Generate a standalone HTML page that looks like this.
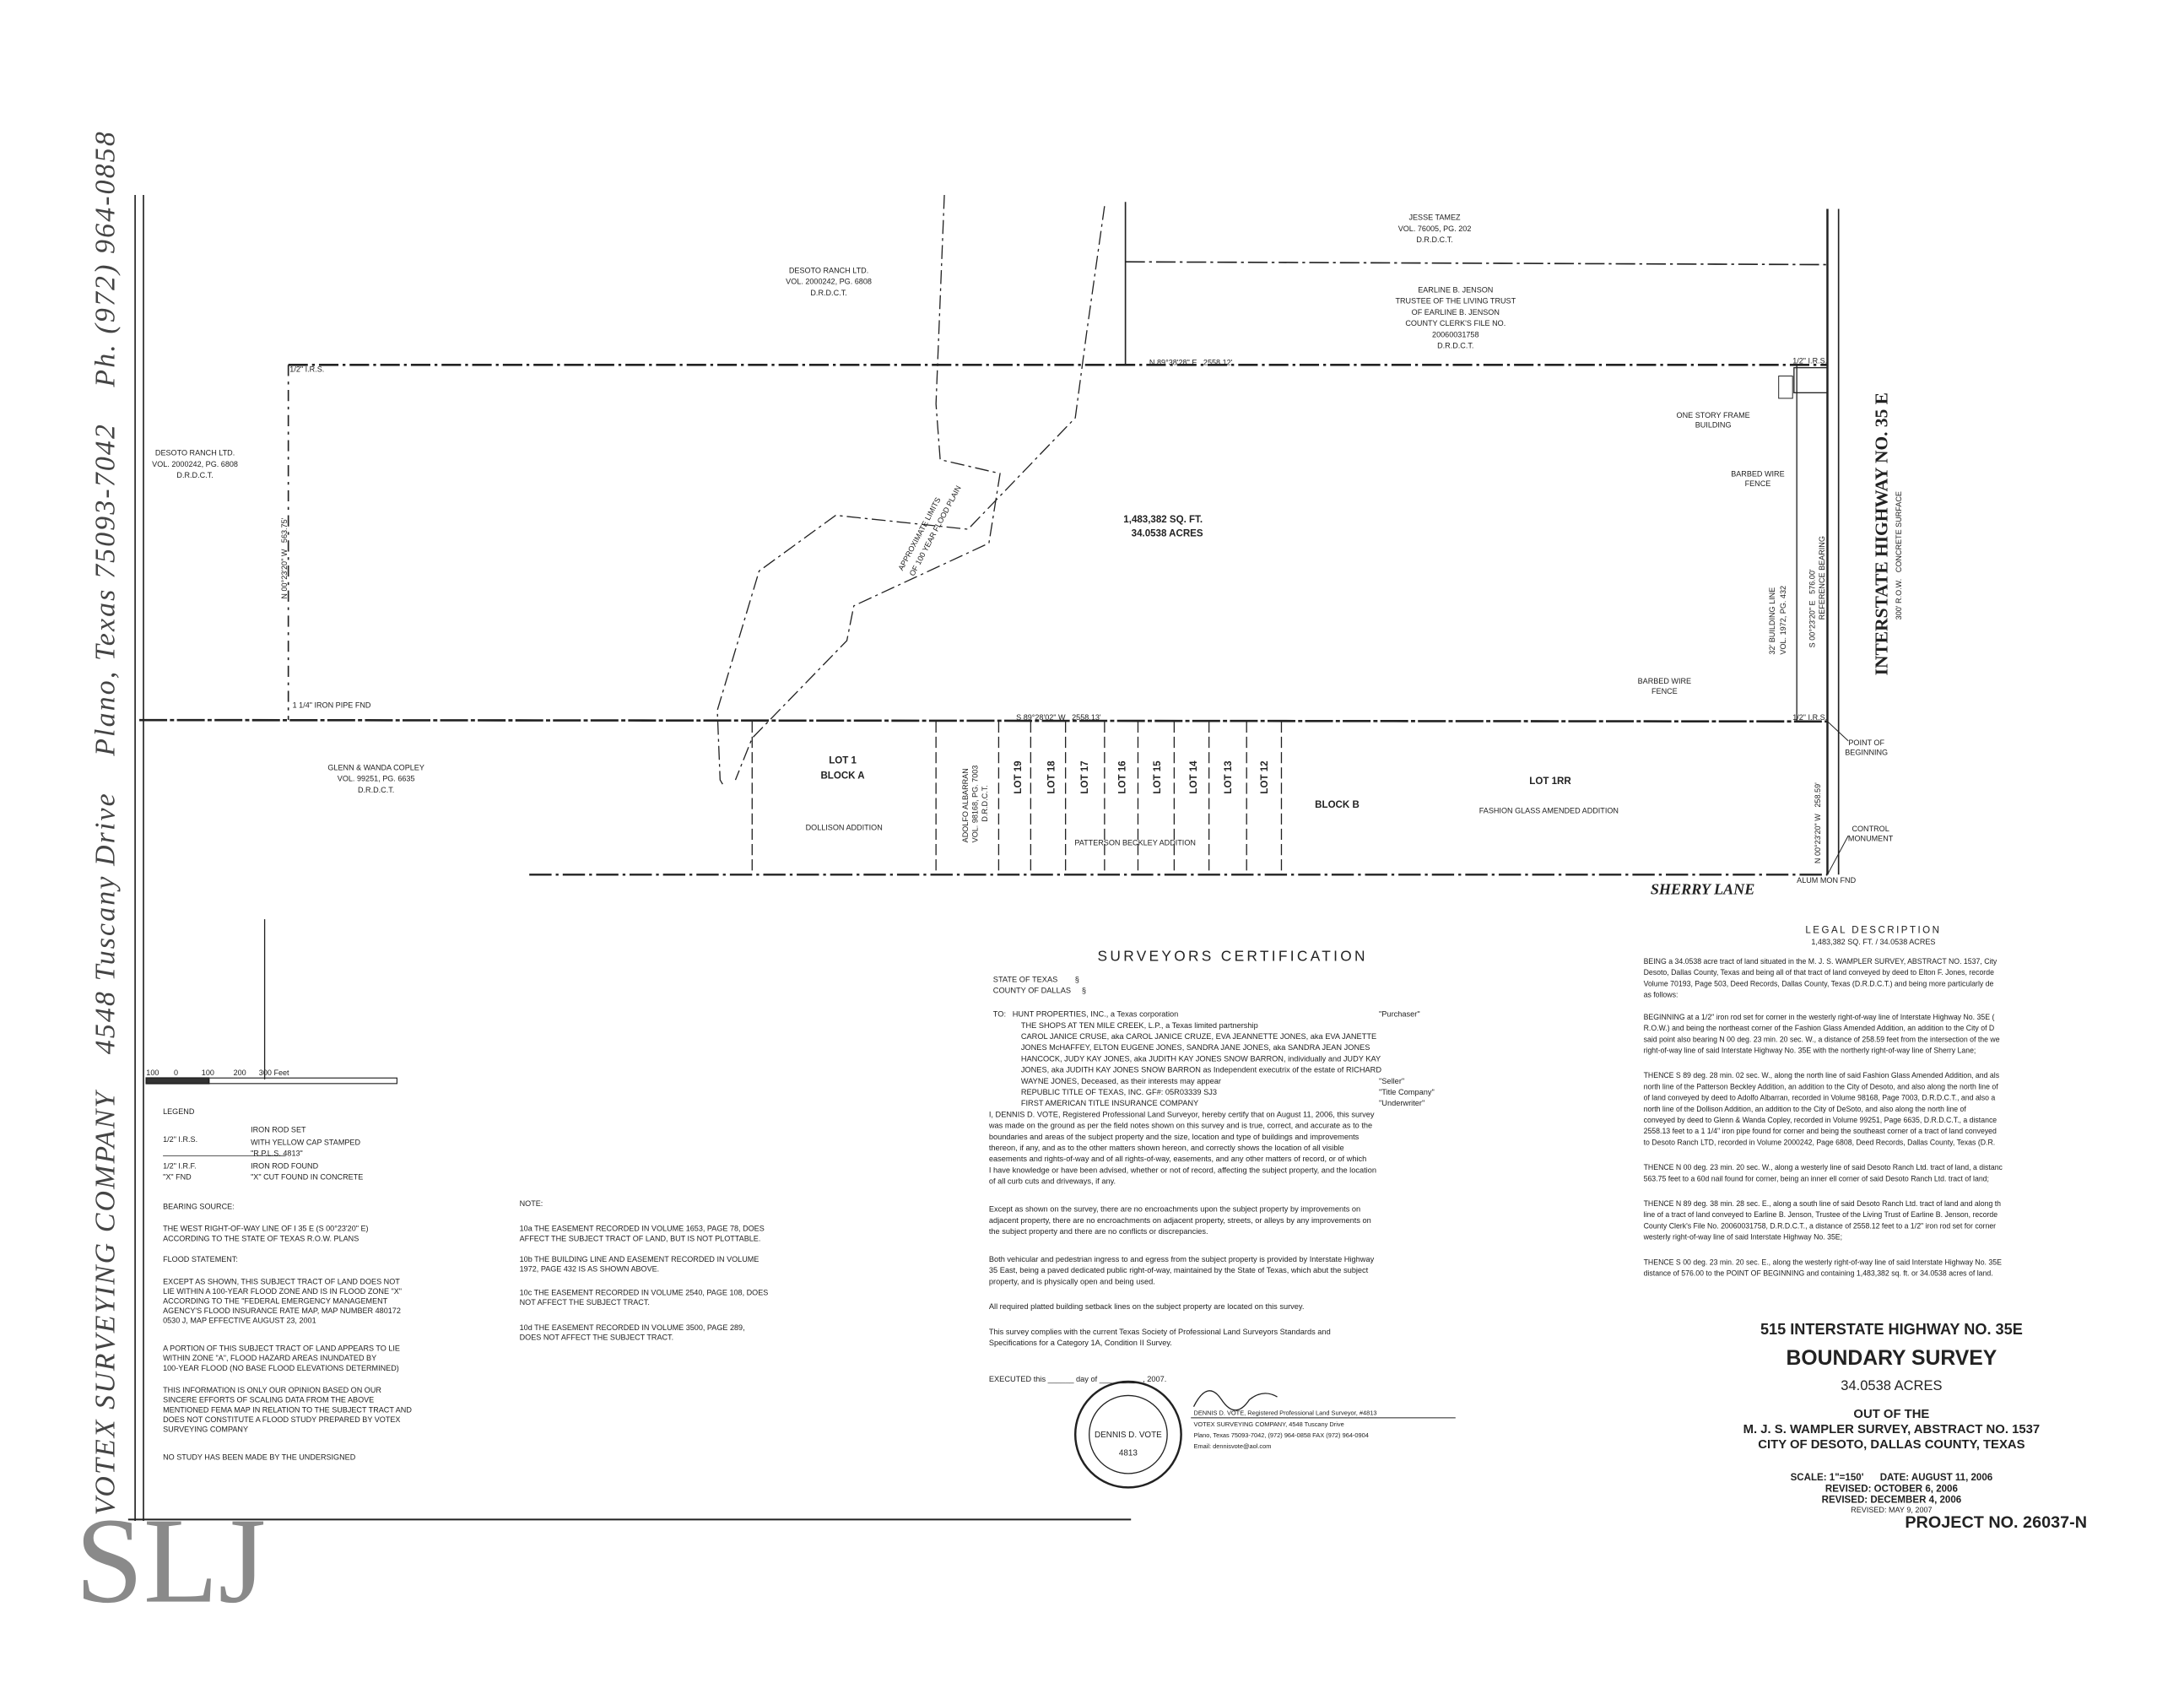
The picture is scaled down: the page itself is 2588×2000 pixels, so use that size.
<!DOCTYPE html>
<html><head><meta charset="utf-8"><style>
html,body{margin:0;padding:0;background:#fff;}
svg{display:block;}
text{font-family:"Liberation Sans",sans-serif;fill:#222;}
.s{font-size:5.5px;}
.m{font-size:7px;}
.c{font-size:5.6px;}
.b{font-weight:bold;}
.sf{font-family:"Liberation Serif",serif;font-weight:bold;}
</style></head><body>
<svg width="2588" height="2000" viewBox="0 0 1568 1212" preserveAspectRatio="none" xmlns="http://www.w3.org/2000/svg">
<rect width="1568" height="1212" fill="#fff"/>
<g stroke="#222" fill="none">
<line x1="97" y1="140" x2="97" y2="1092" stroke-width="1"/>
<line x1="103" y1="140" x2="103" y2="1092" stroke-width="1"/>
<line x1="92" y1="1091" x2="812" y2="1091" stroke-width="1.2"/>
<line x1="207" y1="262" x2="1312" y2="262" stroke-width="1.6" stroke-dasharray="14 3 2 3"/>
<line x1="808" y1="188" x2="1312" y2="190" stroke-width="1" stroke-dasharray="14 3 2 3"/>
<line x1="808" y1="145" x2="808" y2="262" stroke-width="1"/>
<line x1="100" y1="517" x2="1312" y2="518" stroke-width="1.6" stroke-dasharray="20 2 3 2"/>
<line x1="207" y1="262" x2="207" y2="517" stroke-width="1" stroke-dasharray="8 4 2 4"/>
<line x1="1312" y1="150" x2="1312" y2="628" stroke-width="1.5"/>
<line x1="1320" y1="150" x2="1320" y2="628" stroke-width="1"/>
<line x1="1290" y1="262" x2="1290" y2="518" stroke-width="0.8"/>
<line x1="380" y1="628" x2="1312" y2="628" stroke-width="1.4" stroke-dasharray="16 3 2 3"/>
<rect x="1288" y="264" width="24" height="18" stroke-width="0.8"/>
<rect x="1277" y="270" width="10" height="16" stroke-width="0.6"/>
<g stroke-width="0.8">
<line x1="540" y1="518" x2="540" y2="628" stroke-dasharray="8 3"/>
<line x1="672" y1="518" x2="672" y2="628" stroke-dasharray="8 3"/>
<line x1="717" y1="518" x2="717" y2="628" stroke-dasharray="8 3"/>
<line x1="740" y1="518" x2="740" y2="628" stroke-dasharray="8 3"/>
<line x1="765" y1="518" x2="765" y2="628" stroke-dasharray="8 3"/>
<line x1="793" y1="518" x2="793" y2="628" stroke-dasharray="8 3"/>
<line x1="817" y1="518" x2="817" y2="628" stroke-dasharray="8 3"/>
<line x1="843" y1="518" x2="843" y2="628" stroke-dasharray="8 3"/>
<line x1="868" y1="518" x2="868" y2="628" stroke-dasharray="8 3"/>
<line x1="895" y1="518" x2="895" y2="628" stroke-dasharray="8 3"/>
<line x1="920" y1="518" x2="920" y2="628" stroke-dasharray="8 3"/>
</g>
<path d="M678 140 L672 290 L675 330 L718 340 L710 390 L613 435 L608 460 L540 530 L528 560" stroke-width="0.8" stroke-dasharray="10 3 2 3"/>
<path d="M793 148 L780 240 L772 300 L695 380 L600 370 L545 410 L515 510 L517 560 L520 565" stroke-width="0.8" stroke-dasharray="10 3 2 3"/>
<line x1="190" y1="660" x2="190" y2="775" stroke-width="0.8"/>
<rect x="105" y="774" width="180" height="4" stroke-width="0.7"/>
<rect x="105" y="774" width="45" height="4" fill="#333"/>
<line x1="117" y1="830" x2="205" y2="830" stroke-width="0.5"/>
<line x1="855" y1="1018" x2="1045" y2="1018" stroke-width="0.6"/>
<path d="M857 1010 q10 -20 20 -5 t20 0 q10 -8 20 -2" stroke-width="0.8"/>
<circle cx="810" cy="1030" r="38" stroke-width="1.5"/>
<circle cx="810" cy="1030" r="28" stroke-width="0.8"/>
<line x1="1312" y1="518" x2="1327" y2="532" stroke-width="0.6"/>
<line x1="1312" y1="628" x2="1327" y2="600" stroke-width="0.6"/>
</g>
<text transform="translate(82,1088) rotate(-90)" style="font-family:'Liberation Serif',serif;font-style:italic;font-size:20.5px;letter-spacing:1.3px;fill:#444">VOTEX SURVEYING COMPANY&#160;&#160;&#160;&#160;4548 Tuscany Drive&#160;&#160;&#160;&#160;Plano, Texas 75093-7042&#160;&#160;&#160;&#160;Ph. (972) 964-0858</text>
<text x="54" y="1150" style="font-family:'Liberation Serif',serif;font-size:88px;fill:#8a8a8a">SLJ</text>
<g text-anchor="middle" class="s">
<text x="1030" y="158">JESSE TAMEZ</text><text x="1030" y="166">VOL. 76005, PG. 202</text><text x="1030" y="174">D.R.D.C.T.</text>
<text x="1045" y="210">EARLINE B. JENSON</text><text x="1045" y="218">TRUSTEE OF THE LIVING TRUST</text><text x="1045" y="226">OF EARLINE B. JENSON</text><text x="1045" y="234">COUNTY CLERK'S FILE NO.</text><text x="1045" y="242">20060031758</text><text x="1045" y="250">D.R.D.C.T.</text>
<text x="595" y="196">DESOTO RANCH LTD.</text><text x="595" y="204">VOL. 2000242, PG. 6808</text><text x="595" y="212">D.R.D.C.T.</text>
<text x="140" y="327">DESOTO RANCH LTD.</text><text x="140" y="335">VOL. 2000242, PG. 6808</text><text x="140" y="343">D.R.D.C.T.</text>
<text x="270" y="553">GLENN &amp; WANDA COPLEY</text><text x="270" y="561">VOL. 99251, PG. 6635</text><text x="270" y="569">D.R.D.C.T.</text>
<text x="606" y="596">DOLLISON ADDITION</text>
<text x="815" y="607">PATTERSON BECKLEY ADDITION</text>
<text x="1112" y="584">FASHION GLASS AMENDED ADDITION</text>
<text x="855" y="262">N 89°38'28" E&#160;&#160;&#160;2558.12'</text>
<text x="760" y="517">S 89°28'02" W&#160;&#160;&#160;2558.13'</text>
<text x="1340" y="535">POINT OF</text><text x="1340" y="542">BEGINNING</text>
<text x="1343" y="597">CONTROL</text><text x="1343" y="604">MONUMENT</text>
<text x="1230" y="300">ONE STORY FRAME</text><text x="1230" y="307">BUILDING</text>
<text x="1262" y="342">BARBED WIRE</text><text x="1262" y="349">FENCE</text>
<text x="1195" y="491">BARBED WIRE</text><text x="1195" y="498">FENCE</text>
</g>
<g class="m b" text-anchor="middle">
<text x="835" y="375">1,483,382 SQ. FT.</text><text x="838" y="385">34.0538 ACRES</text>
<text x="605" y="548">LOT 1</text><text x="605" y="559">BLOCK A</text>
<text x="1113" y="563">LOT 1RR</text>
<text x="960" y="580">BLOCK B</text>
</g>
<g class="m b">
<text transform="translate(733,570) rotate(-90)">LOT 19</text>
<text transform="translate(757,570) rotate(-90)">LOT 18</text>
<text transform="translate(781,570) rotate(-90)">LOT 17</text>
<text transform="translate(808,570) rotate(-90)">LOT 16</text>
<text transform="translate(833,570) rotate(-90)">LOT 15</text>
<text transform="translate(859,570) rotate(-90)">LOT 14</text>
<text transform="translate(884,570) rotate(-90)">LOT 13</text>
<text transform="translate(910,570) rotate(-90)">LOT 12</text>
</g>
<g class="s">
<text transform="translate(695,605) rotate(-90)">ADOLFO ALBARRAN</text>
<text transform="translate(702,605) rotate(-90)">VOL. 98168, PG. 7003</text>
<text transform="translate(709,590) rotate(-90)">D.R.D.C.T.</text>
<text transform="translate(206,430) rotate(-90)">N 00°23'20" W&#160;&#160;&#160;563.75'</text>
<text transform="translate(1307,620) rotate(-90)">N 00°23'20" W&#160;&#160;&#160;258.59'</text>
<text transform="translate(1303,465) rotate(-90)">S 00°23'20" E&#160;&#160;&#160;576.00'</text>
<text transform="translate(1310,445) rotate(-90)">REFERENCE BEARING</text>
<text transform="translate(1274,470) rotate(-90)">32' BUILDING LINE</text>
<text transform="translate(1282,470) rotate(-90)">VOL. 1972, PG. 432</text>
<text transform="translate(1365,445) rotate(-90)">300' R.O.W.&#160;&#160;&#160;CONCRETE SURFACE</text>
<text transform="translate(648,410) rotate(-62)">APPROXIMATE LIMITS</text>
<text transform="translate(656,414) rotate(-62)">OF 100 YEAR FLOOD PLAIN</text>
<text x="208" y="267">1/2" I.R.S.</text>
<text x="210" y="508">1 1/4" IRON PIPE FND</text>
<text x="1287" y="261">1/2" I.R.S.</text>
<text x="1287" y="517">1/2" I.R.S.</text>
<text x="1290" y="634">ALUM MON FND</text>
</g>
<text transform="translate(1355,485) rotate(-90)" class="sf" style="font-size:13px">INTERSTATE HIGHWAY NO. 35 E</text>
<text x="1185" y="642" class="sf" style="font-size:11px;font-style:italic">SHERRY LANE</text>
<g class="s" style="fill:#444">
<text x="105" y="772">100&#160;&#160;&#160;&#160;&#160;&#160;&#160;0&#160;&#160;&#160;&#160;&#160;&#160;&#160;&#160;&#160;&#160;&#160;100&#160;&#160;&#160;&#160;&#160;&#160;&#160;&#160;&#160;200&#160;&#160;&#160;&#160;&#160;&#160;300 Feet</text>
<text x="117" y="800">LEGEND</text>
<text x="117" y="820">1/2" I.R.S.</text><text x="180" y="813">IRON ROD SET</text><text x="180" y="822">WITH YELLOW CAP STAMPED</text><text x="180" y="830">"R.P.L.S. 4813"</text>
<text x="117" y="839">1/2" I.R.F.</text><text x="180" y="839">IRON ROD FOUND</text>
<text x="117" y="847">"X" FND</text><text x="180" y="847">"X" CUT FOUND IN CONCRETE</text>
<text x="117" y="868">BEARING SOURCE:</text>
<text x="117" y="884">THE WEST RIGHT-OF-WAY LINE OF I 35 E (S 00°23'20" E)</text>
<text x="117" y="891">ACCORDING TO THE STATE OF TEXAS R.O.W. PLANS</text>
<text x="117" y="906">FLOOD STATEMENT:</text>
<text x="117" y="922">EXCEPT AS SHOWN, THIS SUBJECT TRACT OF LAND DOES NOT</text>
<text x="117" y="929">LIE WITHIN A 100-YEAR FLOOD ZONE AND IS IN FLOOD ZONE "X"</text>
<text x="117" y="936">ACCORDING TO THE "FEDERAL EMERGENCY MANAGEMENT</text>
<text x="117" y="943">AGENCY'S FLOOD INSURANCE RATE MAP, MAP NUMBER 480172</text>
<text x="117" y="950">0530 J, MAP EFFECTIVE AUGUST 23, 2001</text>
<text x="117" y="970">A PORTION OF THIS SUBJECT TRACT OF LAND APPEARS TO LIE</text>
<text x="117" y="977">WITHIN ZONE "A", FLOOD HAZARD AREAS INUNDATED BY</text>
<text x="117" y="984">100-YEAR FLOOD (NO BASE FLOOD ELEVATIONS DETERMINED)</text>
<text x="117" y="1000">THIS INFORMATION IS ONLY OUR OPINION BASED ON OUR</text>
<text x="117" y="1007">SINCERE EFFORTS OF SCALING DATA FROM THE ABOVE</text>
<text x="117" y="1014">MENTIONED FEMA MAP IN RELATION TO THE SUBJECT TRACT AND</text>
<text x="117" y="1021">DOES NOT CONSTITUTE A FLOOD STUDY PREPARED BY VOTEX</text>
<text x="117" y="1028">SURVEYING COMPANY</text>
<text x="117" y="1048">NO STUDY HAS BEEN MADE BY THE UNDERSIGNED</text>
<text x="373" y="866">NOTE:</text>
<text x="373" y="884">10a THE EASEMENT RECORDED IN VOLUME 1653, PAGE 78, DOES</text>
<text x="373" y="891">AFFECT THE SUBJECT TRACT OF LAND, BUT IS NOT PLOTTABLE.</text>
<text x="373" y="906">10b THE BUILDING LINE AND EASEMENT RECORDED IN VOLUME</text>
<text x="373" y="913">1972, PAGE 432 IS AS SHOWN ABOVE.</text>
<text x="373" y="930">10c THE EASEMENT RECORDED IN VOLUME 2540, PAGE 108, DOES</text>
<text x="373" y="937">NOT AFFECT THE SUBJECT TRACT.</text>
<text x="373" y="955">10d THE EASEMENT RECORDED IN VOLUME 3500, PAGE 289,</text>
<text x="373" y="962">DOES NOT AFFECT THE SUBJECT TRACT.</text>
</g>
<text x="885" y="690" text-anchor="middle" style="font-size:10.5px;letter-spacing:2px">SURVEYORS CERTIFICATION</text>
<g class="c">
<text x="713" y="705">STATE OF TEXAS&#160;&#160;&#160;&#160;&#160;&#160;&#160;&#160;§</text>
<text x="713" y="713">COUNTY OF DALLAS&#160;&#160;&#160;&#160;&#160;§</text>
<text x="713" y="730">TO:&#160;&#160;&#160;HUNT PROPERTIES, INC., a Texas corporation</text><text x="990" y="730">"Purchaser"</text>
<text x="733" y="738">THE SHOPS AT TEN MILE CREEK, L.P., a Texas limited partnership</text>
<text x="733" y="746">CAROL JANICE CRUSE, aka CAROL JANICE CRUZE, EVA JEANNETTE JONES, aka EVA JANETTE</text>
<text x="733" y="754">JONES McHAFFEY, ELTON EUGENE JONES, SANDRA JANE JONES, aka SANDRA JEAN JONES</text>
<text x="733" y="762">HANCOCK, JUDY KAY JONES, aka JUDITH KAY JONES SNOW BARRON, individually and JUDY KAY</text>
<text x="733" y="770">JONES, aka JUDITH KAY JONES SNOW BARRON as Independent executrix of the estate of RICHARD</text>
<text x="733" y="778">WAYNE JONES, Deceased, as their interests may appear</text><text x="990" y="778">"Seller"</text>
<text x="733" y="786">REPUBLIC TITLE OF TEXAS, INC. GF#: 05R03339 SJ3</text><text x="990" y="786">"Title Company"</text>
<text x="733" y="794">FIRST AMERICAN TITLE INSURANCE COMPANY</text><text x="990" y="794">"Underwriter"</text>
<text x="710" y="802">I, DENNIS D. VOTE, Registered Professional Land Surveyor, hereby certify that on August 11, 2006, this survey</text>
<text x="710" y="810">was made on the ground as per the field notes shown on this survey and is true, correct, and accurate as to the</text>
<text x="710" y="818">boundaries and areas of the subject property and the size, location and type of buildings and improvements</text>
<text x="710" y="826">thereon, if any, and as to the other matters shown hereon, and correctly shows the location of all visible</text>
<text x="710" y="834">easements and rights-of-way and of all rights-of-way, easements, and any other matters of record, or of which</text>
<text x="710" y="842">I have knowledge or have been advised, whether or not of record, affecting the subject property, and the location</text>
<text x="710" y="850">of all curb cuts and driveways, if any.</text>
<text x="710" y="870">Except as shown on the survey, there are no encroachments upon the subject property by improvements on</text>
<text x="710" y="878">adjacent property, there are no encroachments on adjacent property, streets, or alleys by any improvements on</text>
<text x="710" y="886">the subject property and there are no conflicts or discrepancies.</text>
<text x="710" y="906">Both vehicular and pedestrian ingress to and egress from the subject property is provided by Interstate Highway</text>
<text x="710" y="914">35 East, being a paved dedicated public right-of-way, maintained by the State of Texas, which abut the subject</text>
<text x="710" y="922">property, and is physically open and being used.</text>
<text x="710" y="940">All required platted building setback lines on the subject property are located on this survey.</text>
<text x="710" y="958">This survey complies with the current Texas Society of Professional Land Surveyors Standards and</text>
<text x="710" y="966">Specifications for a Category 1A, Condition II Survey.</text>
<text x="710" y="992">EXECUTED this ______ day of __________, 2007.</text>
<text x="857" y="1016" style="font-size:4.5px">DENNIS D. VOTE, Registered Professional Land Surveyor, #4813</text>
<text x="857" y="1024" style="font-size:4.5px">VOTEX SURVEYING COMPANY, 4548 Tuscany Drive</text>
<text x="857" y="1032" style="font-size:4.5px">Plano, Texas 75093-7042, (972) 964-0858 FAX (972) 964-0904</text>
<text x="857" y="1040" style="font-size:4.5px">Email: dennisvote@aol.com</text>
<text x="810" y="1032" text-anchor="middle" style="font-size:6px">DENNIS D. VOTE</text>
<text x="810" y="1045" text-anchor="middle" style="font-size:6px">4813</text>
</g>
<text x="1345" y="670" text-anchor="middle" style="font-size:7px;letter-spacing:1.5px">LEGAL DESCRIPTION</text>
<text x="1345" y="678" text-anchor="middle" class="s">1,483,382 SQ. FT. / 34.0538 ACRES</text>
<g class="s" style="font-size:5.3px">
<text x="1180" y="692">BEING a 34.0538 acre tract of land situated in the M. J. S. WAMPLER SURVEY, ABSTRACT NO. 1537, City</text>
<text x="1180" y="700">Desoto, Dallas County, Texas and being all of that tract of land conveyed by deed to Elton F. Jones, recorde</text>
<text x="1180" y="708">Volume 70193, Page 503, Deed Records, Dallas County, Texas (D.R.D.C.T.) and being more particularly de</text>
<text x="1180" y="716">as follows:</text>
<text x="1180" y="732">BEGINNING at a 1/2" iron rod set for corner in the westerly right-of-way line of Interstate Highway No. 35E (</text>
<text x="1180" y="740">R.O.W.) and being the northeast corner of the Fashion Glass Amended Addition, an addition to the City of D</text>
<text x="1180" y="748">said point also bearing N 00 deg. 23 min. 20 sec. W., a distance of 258.59 feet from the intersection of the we</text>
<text x="1180" y="756">right-of-way line of said Interstate Highway No. 35E with the northerly right-of-way line of Sherry Lane;</text>
<text x="1180" y="774">THENCE S 89 deg. 28 min. 02 sec. W., along the north line of said Fashion Glass Amended Addition, and als</text>
<text x="1180" y="782">north line of the Patterson Beckley Addition, an addition to the City of Desoto, and also along the north line of</text>
<text x="1180" y="790">of land conveyed by deed to Adolfo Albarran, recorded in Volume 98168, Page 7003, D.R.D.C.T., and also a</text>
<text x="1180" y="798">north line of the Dollison Addition, an addition to the City of DeSoto, and also along the north line of</text>
<text x="1180" y="806">conveyed by deed to Glenn &amp; Wanda Copley, recorded in Volume 99251, Page 6635, D.R.D.C.T., a distance</text>
<text x="1180" y="814">2558.13 feet to a 1 1/4" iron pipe found for corner and being the southeast corner of a tract of land conveyed</text>
<text x="1180" y="822">to Desoto Ranch LTD, recorded in Volume 2000242, Page 6808, Deed Records, Dallas County, Texas (D.R.</text>
<text x="1180" y="840">THENCE N 00 deg. 23 min. 20 sec. W., along a westerly line of said Desoto Ranch Ltd. tract of land, a distanc</text>
<text x="1180" y="848">563.75 feet to a 60d nail found for corner, being an inner ell corner of said Desoto Ranch Ltd. tract of land;</text>
<text x="1180" y="866">THENCE N 89 deg. 38 min. 28 sec. E., along a south line of said Desoto Ranch Ltd. tract of land and along th</text>
<text x="1180" y="874">line of a tract of land conveyed to Earline B. Jenson, Trustee of the Living Trust of Earline B. Jenson, recorde</text>
<text x="1180" y="882">County Clerk's File No. 20060031758, D.R.D.C.T., a distance of 2558.12 feet to a 1/2" iron rod set for corner</text>
<text x="1180" y="890">westerly right-of-way line of said Interstate Highway No. 35E;</text>
<text x="1180" y="908">THENCE S 00 deg. 23 min. 20 sec. E., along the westerly right-of-way line of said Interstate Highway No. 35E</text>
<text x="1180" y="916">distance of 576.00 to the POINT OF BEGINNING and containing 1,483,382 sq. ft. or 34.0538 acres of land.</text>
</g>
<g text-anchor="middle" class="sf">
<text x="1358" y="958" style="font-size:11px">515 INTERSTATE HIGHWAY NO. 35E</text>
<text x="1358" y="980" style="font-size:15px">BOUNDARY SURVEY</text>
<text x="1358" y="998" style="font-size:10px;font-family:'Liberation Sans',sans-serif;font-weight:normal">34.0538 ACRES</text>
<text x="1358" y="1018" style="font-size:9px">OUT OF THE</text>
<text x="1358" y="1029" style="font-size:9px">M. J. S. WAMPLER SURVEY, ABSTRACT NO. 1537</text>
<text x="1358" y="1040" style="font-size:9px">CITY OF DESOTO, DALLAS COUNTY, TEXAS</text>
<text x="1358" y="1063" style="font-size:7px">SCALE: 1"=150'&#160;&#160;&#160;&#160;&#160;&#160;DATE: AUGUST 11, 2006</text>
<text x="1358" y="1071" style="font-size:7px">REVISED: OCTOBER 6, 2006</text>
<text x="1358" y="1079" style="font-size:7px">REVISED: DECEMBER 4, 2006</text>
<text x="1358" y="1086" style="font-size:5.5px;font-family:'Liberation Sans',sans-serif;font-weight:normal">REVISED: MAY 9, 2007</text>
<text x="1433" y="1097" style="font-size:12px">PROJECT NO. 26037-N</text>
</g>
</svg>
</body></html>
